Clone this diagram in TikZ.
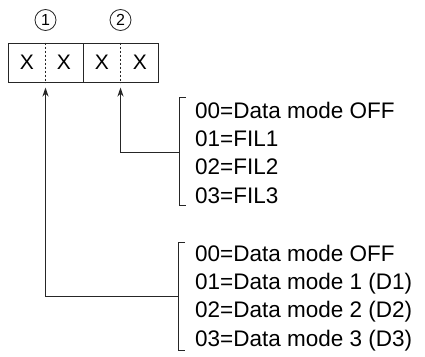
\documentclass[tikz,border=0pt]{standalone}
\usepackage{fontspec}
\setmainfont{Liberation Sans}
\usetikzlibrary{arrows.meta}
\begin{document}
\begin{tikzpicture}[x=1pt,y=-1pt,
  ln/.style={draw=black!85, line width=1pt},
  cell/.style={ln, rectangle, minimum width=75pt, minimum height=39pt, inner sep=0pt},
  xch/.style={font=\fontsize{21}{21}\selectfont, inner sep=0pt},
  lst/.style={font=\fontsize{22.5}{22.5}\selectfont, inner sep=0pt, anchor=base west},
  circnum/.style={draw=black!85, line width=0.8pt, circle, minimum size=21pt, inner sep=0pt, font=\fontsize{16}{16}\selectfont},
  arr/.style={ln, -{Stealth[length=9pt,width=6pt]}, shorten >=5pt},
  dot/.style={draw=black!85, line width=1pt, dash pattern=on 2pt off 2pt}
]
\useasboundingbox (0,0) rectangle (425,356);
% box
\node[cell] (c1) at (45.5,62.5) {};
\node[cell] (c2) at (120.5,62.5) {};
\draw[dot] (c1.north) -- (c1.south);
\draw[dot] (c2.north) -- (c2.south);
\node[xch] (x1) at (27,62.5) {X};
\node[xch] (x2) at (64,62.5) {X};
\node[xch] (x3) at (102,62.5) {X};
\node[xch] (x4) at (140,62.5) {X};
% circled numbers
\node[circnum] (n1) at (45.5,20) {1};
\node[circnum] (n2) at (120.5,20) {2};
% upper list
\node[lst] (u0) at (195,118) {00=Data mode OFF};
\node[lst] (u1) at (195,146.3) {01=FIL1};
\node[lst] (u2) at (195,174.6) {02=FIL2};
\node[lst] (u3) at (195,203) {03=FIL3};
% lower list
\node[lst] (l0) at (195,261) {00=Data mode OFF};
\node[lst] (l1) at (195,289.3) {01=Data mode 1 (D1)};
\node[lst] (l2) at (195,317.6) {02=Data mode 2 (D2)};
\node[lst] (l3) at (195,346) {03=Data mode 3 (D3)};
% brackets
\coordinate (ub) at (179,152);
\coordinate (lb) at (178,296);
\draw[ln] (186,97) -- (179,97) -- (179,205) -- (186,205);
\draw[ln] (185,242) -- (178,242) -- (178,350) -- (185,350);
% connectors
\draw[arr] (ub) -| (c2.south);
\draw[arr] (lb) -| (c1.south);
\end{tikzpicture}
\end{document}
